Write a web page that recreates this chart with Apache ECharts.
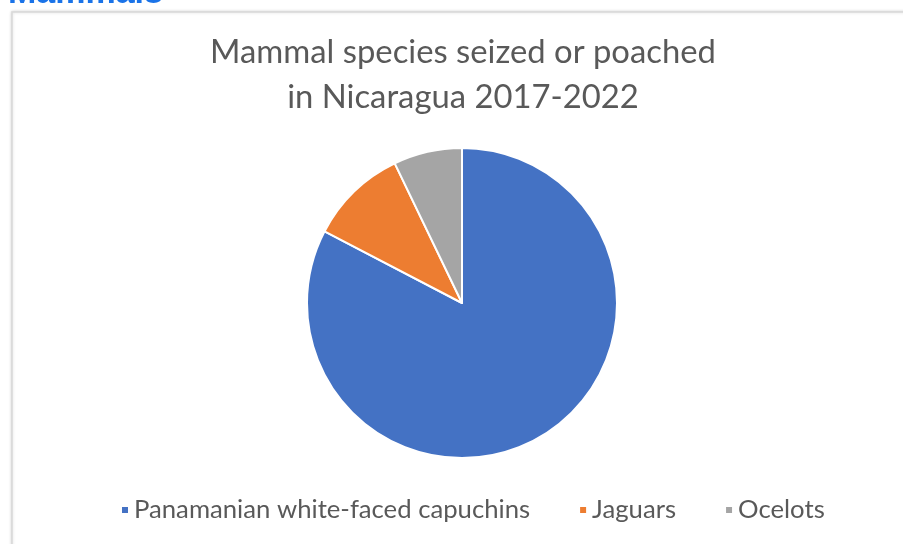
<!DOCTYPE html>
<html><head><meta charset="utf-8">
<script src="https://cdn.jsdelivr.net/npm/echarts@6/dist/echarts.min.js"></script>
<style>html,body{margin:0;padding:0;background:#fff}#c{width:903px;height:544px}</style>
</head><body><div id="c"></div>
<script>
const categories = ["Panamanian white-faced capuchins", "Jaguars", "Ocelots"];
const values = [81, 10, 7];
const colors = ["#4472C4", "#ED7D31", "#A5A5A5"];
const titleLines = ["Mammal species seized or poached", "in Nicaragua 2017-2022"];

const chart = echarts.init(document.getElementById('c'));
chart.setOption({
  animation: false,
  backgroundColor: '#fff',
  graphic: [
    {type: 'rect', shape: {x: 12, y: 12, width: 900, height: 540}, style: {fill: '#fff', stroke: '#d9d9d9', lineWidth: 1.5, shadowBlur: 3, shadowColor: 'rgba(0,0,0,0.15)'}, z: -10},
    {type: 'text', left: 8, top: -23, style: {text: 'Mammals', fill: '#1a73e8', font: 'bold 34px Arial, "Liberation Sans"'}, z: 10}
  ],
  title: {
    text: titleLines.join('\n'),
    left: 458, top: 25, textAlign: 'center',
    textStyle: {color: '#595959', fontFamily: 'Lato, "Open Sans", sans-serif', fontWeight: 'normal', fontSize: 32.8, lineHeight: 45}
  },
  legend: {
    bottom: 16, left: 115,
    itemWidth: 8, itemHeight: 8, itemGap: 48, icon: 'rect',
    textStyle: {color: '#595959', fontFamily: 'Lato, "Open Sans", sans-serif', fontSize: 25.7},
    data: categories
  },
  series: [{
    type: 'pie',
    center: [462, 303],
    radius: 155,
    startAngle: 90,
    clockwise: true,
    label: {show: false},
    labelLine: {show: false},
    itemStyle: {borderColor: '#fff', borderWidth: 2},
    data: categories.map((n, i) => ({name: n, value: values[i], itemStyle: {color: colors[i]}}))
  }]
});
</script></body></html>
